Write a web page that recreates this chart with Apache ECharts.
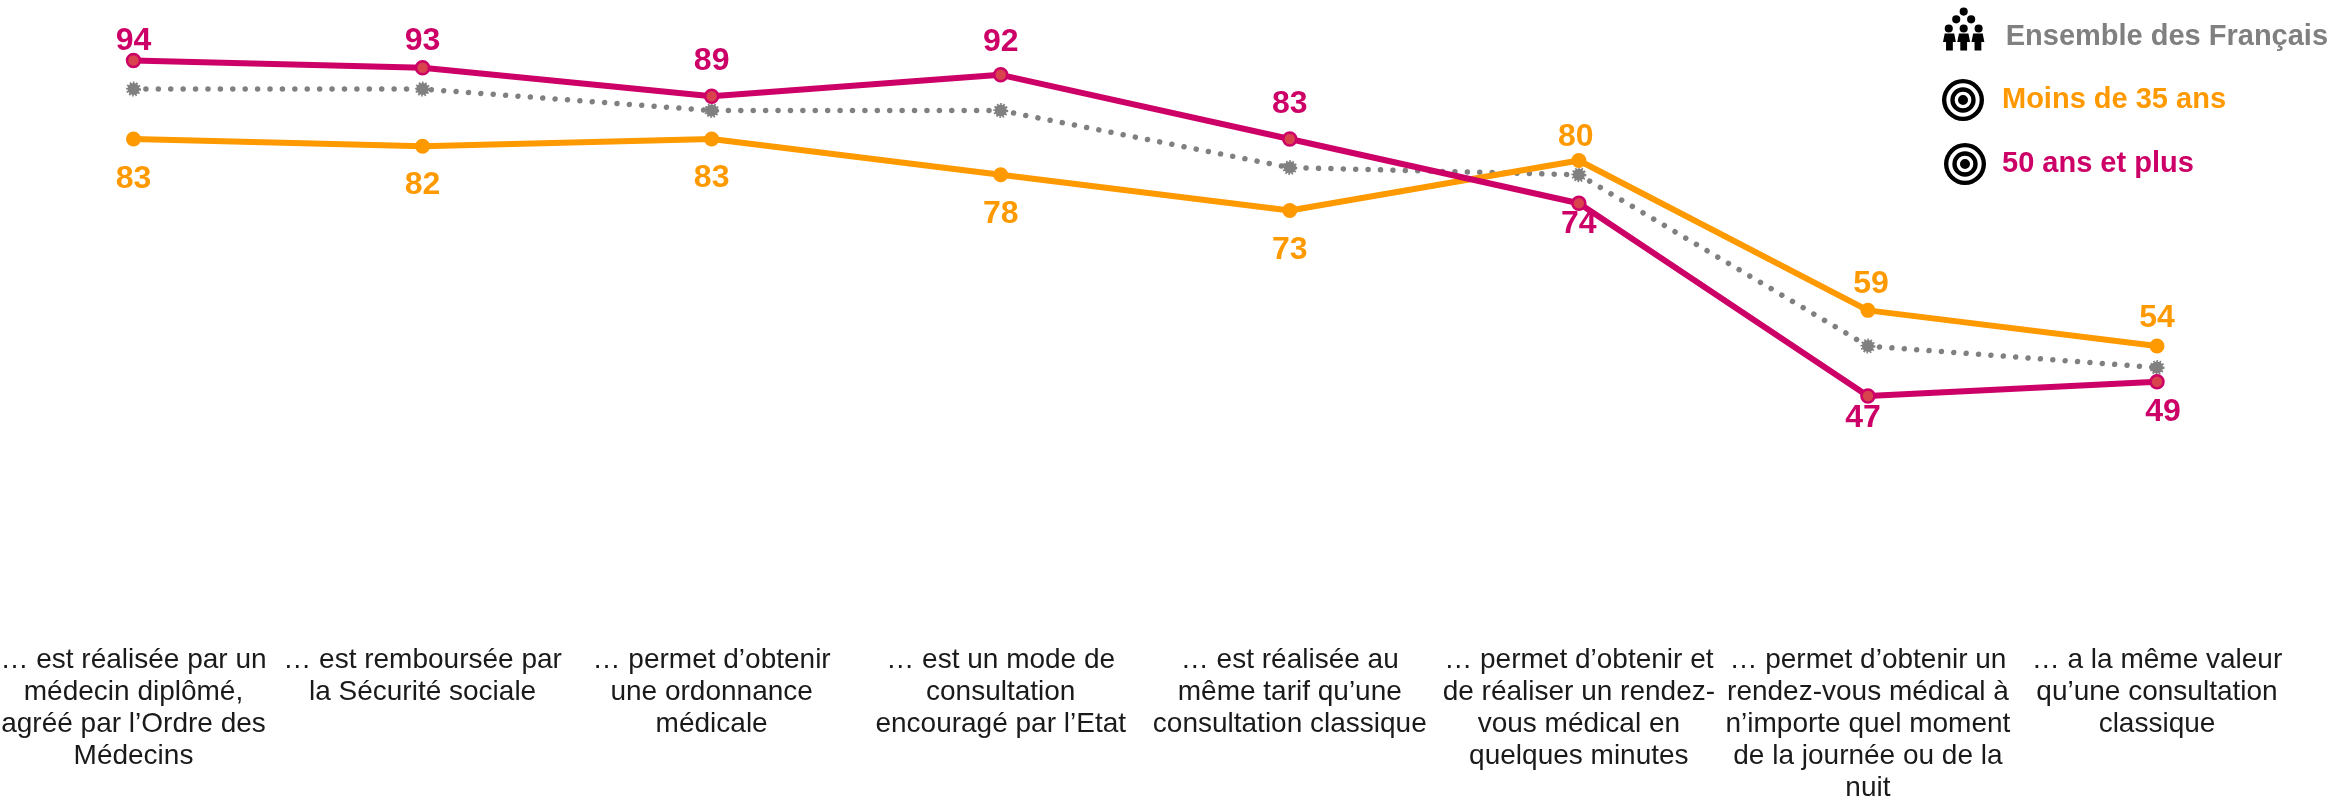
<!DOCTYPE html>
<html>
<head>
<meta charset="utf-8">
<style>
html, body { margin: 0; padding: 0; background: #fff; }
#main { width: 2330px; height: 807px; }
</style>
<script src="https://cdn.jsdelivr.net/npm/echarts@6/dist/echarts.min.js"></script>
</head>
<body>
<div id="main"></div>
<script>
var categories = [
    '… est réalisée par un\nmédecin diplômé,\nagréé par l’Ordre des\nMédecins',
    '… est remboursée par\nla Sécurité sociale',
    '… permet d’obtenir\nune ordonnance\nmédicale',
    '… est un mode de\nconsultation\nencouragé par l’Etat',
    '… est réalisée au\nmême tarif qu’une\nconsultation classique',
    '… permet d’obtenir et\nde réaliser un rendez-\nvous médical en\nquelques minutes',
    '… permet d’obtenir un\nrendez-vous médical à\nn’importe quel moment\nde la journée ou de la\nnuit',
    '… a la même valeur\nqu’une consultation\nclassique'
];
var ensemble = [90, 90, 87, 87, 79, 78, 54, 51];
var moins35 = [83, 82, 83, 78, 73, 80, 59, 54];
var plus50 = [94, 93, 89, 92, 83, 74, 47, 49];

// decalage des etiquettes par rapport au point
var moins35Shift = [[0, 40], [0, 39], [0, 39], [0, 39], [0, 40], [-3, -23], [3, -26], [0, -28]];
var plus50Shift = [[0, -19], [0, -26], [0, -35], [0, -33], [0, -35], [0, 21], [-5, 22], [6, 30]];

var GREY = '#808080';
var ORANGE = '#ff9900';
var PINK = '#cc0066';
var FONT = '"Liberation Sans", Arial, sans-serif';

function ring(cx, cy, r, reverse) {
    var s = reverse ? 1 : 0;
    return 'M' + (cx - r) + ' ' + cy +
        'a' + r + ' ' + r + ' 0 1 ' + s + ' ' + (2 * r) + ' 0' +
        'a' + r + ' ' + r + ' 0 1 ' + s + ' ' + (-2 * r) + ' 0Z';
}

function body(c) {
    return 'M' + (c - 14) + ' 78L' + (c + 14) + ' 78L' + (c + 19) + ' 103L' + (c + 10) + ' 103L' +
        (c + 10) + ' 128L' + (c - 10) + ' 128L' + (c - 10) + ' 103L' + (c - 19) + ' 103Z';
}

var targetIcon = 'path://' + ring(63, 63, 63) + ring(63, 63, 50, true) + ring(63, 63, 38) +
    ring(63, 63, 25, true) + ring(63, 63, 15);
// le petit trait invisible en bas descend la boite de l'icone : le texte est plus bas que l'icone
var peopleIcon = 'path://' + ring(61, 13, 12) + ring(39, 36, 12) + ring(83, 36, 12) +
    ring(17, 63, 12) + ring(61, 63, 12) + ring(105, 63, 12) + body(19) + body(61) + body(103) +
    'M61 172L61 172Z';

function legendItem(name, icon, color, left, top, gapLeft, iconHeight) {
    return {
        data: [{ name: name, icon: icon }],
        left: left,
        top: top,
        padding: 0,
        itemWidth: 42,
        itemHeight: iconHeight,
        selectedMode: false,
        itemStyle: { color: '#000', borderWidth: 0 },
        textStyle: {
            color: color,
            fontFamily: FONT,
            fontWeight: 'bold',
            fontSize: 29,
            padding: [0, 0, 0, gapLeft]
        }
    };
}

function withLabels(values, shifts) {
    return values.map(function (v, i) {
        return { value: v, label: { offset: shifts[i] } };
    });
}

var myChart = echarts.init(document.getElementById('main'));

var option = {
    backgroundColor: '#fff',
    animation: false,
    grid: { left: 133.5, right: 173, top: 17.7, bottom: 361, outerBoundsMode: 'none' },
    legend: [
        legendItem('Ensemble des Français', peopleIcon, GREY, 1943, 7.5, 16, 58),
        legendItem('Moins de 35 ans', targetIcon, ORANGE, 1942, 79, 13, 43),
        legendItem('50 ans et plus', targetIcon, PINK, 1944, 143, 11, 43)
    ],
    xAxis: {
        type: 'category',
        boundaryGap: false,
        data: categories,
        axisLine: { show: false },
        axisTick: { show: false },
        axisLabel: {
            interval: 0,
            margin: 198,
            hideOverlap: false,
            color: '#1a1a1a',
            fontFamily: FONT,
            fontSize: 28,
            lineHeight: 32,
            align: 'center',
            verticalAlign: 'top'
        }
    },
    yAxis: {
        type: 'value',
        min: 40,
        max: 100,
        show: false
    },
    series: [
        {
            name: 'Ensemble des Français',
            type: 'line',
            data: ensemble,
            symbol: 'circle',
            symbolSize: 12,
            itemStyle: { color: GREY, borderColor: GREY, borderWidth: 3, borderType: [1.5, 1.5] },
            lineStyle: { color: GREY, width: 5.5, type: [0.01, 12.4], cap: 'round' }
        },
        {
            name: 'Moins de 35 ans',
            type: 'line',
            data: withLabels(moins35, moins35Shift),
            symbol: 'circle',
            symbolSize: 15,
            itemStyle: { color: ORANGE },
            lineStyle: { color: ORANGE, width: 6 },
            label: {
                show: true,
                position: 'inside',
                color: ORANGE,
                fontFamily: FONT,
                fontWeight: 'bold',
                fontSize: 32
            }
        },
        {
            name: '50 ans et plus',
            type: 'line',
            data: withLabels(plus50, plus50Shift),
            symbol: 'circle',
            symbolSize: 13,
            itemStyle: { color: '#d9434e', borderColor: PINK, borderWidth: 2.5 },
            lineStyle: { color: PINK, width: 6 },
            label: {
                show: true,
                position: 'inside',
                color: PINK,
                fontFamily: FONT,
                fontWeight: 'bold',
                fontSize: 32
            }
        }
    ]
};

option && myChart.setOption(option);
</script>
</body>
</html>
